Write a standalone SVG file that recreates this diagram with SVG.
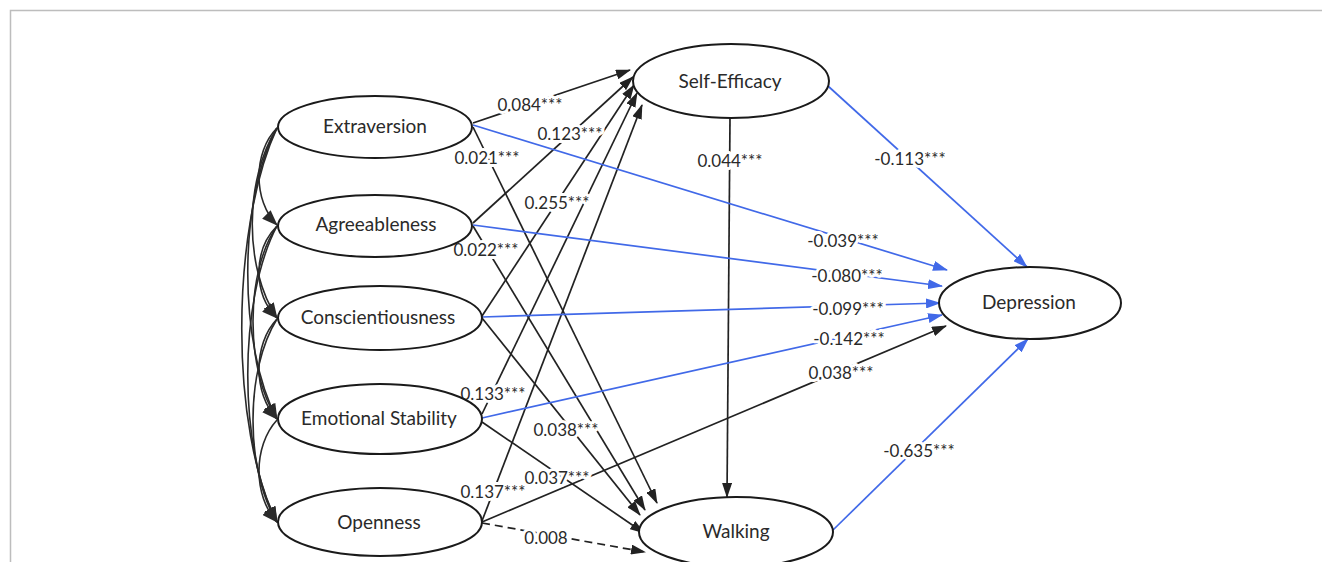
<svg xmlns="http://www.w3.org/2000/svg" width="1322" height="562" viewBox="0 0 1322 562">
<defs>
<marker id="ab" markerUnits="userSpaceOnUse" markerWidth="15" markerHeight="10" refX="14" refY="5" orient="auto"><path d="M0,0 L15,5 L0,10 z" fill="#222"/></marker>
<marker id="au" markerUnits="userSpaceOnUse" markerWidth="15" markerHeight="10" refX="14" refY="5" orient="auto"><path d="M0,0 L15,5 L0,10 z" fill="#4169e8"/></marker>
<marker id="ac" markerUnits="userSpaceOnUse" markerWidth="16" markerHeight="12" refX="15" refY="6" orient="auto"><path d="M0,0 L16,6 L0,12 z" fill="#2a2a2a"/></marker>
<style>
.n{fill:#fff;stroke:#1a1a1a;stroke-width:2}
.nt{font-family:Lato,"Open Sans",sans-serif;font-size:19px;fill:#2a2a2a;text-anchor:middle}
.k{fill:none;stroke:#222;stroke-width:1.7;marker-end:url(#ab)}
.u{fill:none;stroke:#4169e8;stroke-width:1.7;marker-end:url(#au)}
.c{fill:none;stroke:#2a2a2a;stroke-width:1.6;marker-end:url(#ac)}
.d{stroke-dasharray:8,5}
.l{font-family:Lato,"Open Sans",sans-serif;font-size:17px;fill:#2a2a2a;text-anchor:middle;stroke:#fff;stroke-width:6;stroke-linejoin:round;paint-order:stroke}
</style>
</defs>
<rect width="1322" height="562" fill="#fff"/>
<path d="M10.5,562 V10.5 H1322" fill="none" stroke="#bdbdbd" stroke-width="1.5"/>
<g id="connectors">
<path class="c" d="M277,128 C253,152 253,201 277,225"/>
<path class="c" d="M277,128 C244,180 244,268 277,318"/>
<path class="c" d="M277,128 C238,200 238,345 277,419"/>
<path class="c" d="M277,128 C230,230 230,430 277,522"/>
<path class="c" d="M277,226 C253,250 253,294 277,318"/>
<path class="c" d="M277,226 C245,272 245,370 277,419"/>
<path class="c" d="M277,226 C238,300 238,450 277,522"/>
<path class="c" d="M277,319 C253,344 253,394 277,419"/>
<path class="c" d="M277,319 C245,370 245,470 277,522"/>
<path class="c" d="M277,420 C253,446 253,496 277,522"/>
<path class="k" d="M473,123 L630,70"/>
<path class="k" d="M473,223 L633,77"/>
<path class="k" d="M482,316 L634,85"/>
<path class="k" d="M482,414 L637,93"/>
<path class="k" d="M482,521 L642,105"/>
<path class="k" d="M473,127 L657,503"/>
<path class="k" d="M473,226 L645,510"/>
<path class="k" d="M482,318 L640,515"/>
<path class="k" d="M482,422 L644,533"/>
<path class="k d" d="M482,523 L645,552"/>
<path class="k" d="M730,118 L727,497"/>
<path class="u" d="M828,86 L1027,267"/>
<path class="u" d="M473,125 L947,270"/>
<path class="u" d="M473,225 L942,286"/>
<path class="u" d="M482,317 L940,303"/>
<path class="u" d="M482,418 L942,315"/>
<path class="k" d="M482,522 L946,326"/>
<path class="u" d="M833,530 L1028,339"/>
<text class="l" x="530" y="111">0.084***</text>
<text class="l" x="570" y="140">0.123***</text>
<text class="l" x="487" y="164">0.021***</text>
<text class="l" x="557" y="209">0.255***</text>
<text class="l" x="486" y="256">0.022***</text>
<text class="l" x="493" y="400">0.133***</text>
<text class="l" x="566" y="436">0.038***</text>
<text class="l" x="557" y="484">0.037***</text>
<text class="l" x="493" y="498">0.137***</text>
<text class="l" x="546" y="544">0.008</text>
<text class="l" x="730" y="167">0.044***</text>
<text class="l" x="910" y="165">-0.113***</text>
<text class="l" x="843" y="247">-0.039***</text>
<text class="l" x="847" y="282">-0.080***</text>
<text class="l" x="848" y="315">-0.099***</text>
<text class="l" x="849" y="345">-0.142***</text>
<text class="l" x="841" y="379">0.038***</text>
<text class="l" x="919" y="457">-0.635***</text>
</g>
<g id="extraversion"><ellipse class="n" cx="375" cy="127" rx="97" ry="31"/><text class="nt" x="375" y="133">Extraversion</text></g>
<g id="agreeableness"><ellipse class="n" cx="375" cy="226" rx="97" ry="31"/><text class="nt" x="376" y="231">Agreeableness</text></g>
<g id="conscientiousness"><ellipse class="n" cx="380" cy="318" rx="102" ry="32"/><text class="nt" x="378" y="324">Conscientiousness</text></g>
<g id="emotional-stability"><ellipse class="n" cx="380" cy="419" rx="102" ry="35"/><text class="nt" x="379" y="425">Emotional Stability</text></g>
<g id="openness"><ellipse class="n" cx="380" cy="522" rx="102" ry="34"/><text class="nt" x="379" y="529">Openness</text></g>
<g id="self-efficacy"><ellipse class="n" cx="731" cy="81" rx="98" ry="37"/><text class="nt" x="730" y="88">Self-Efficacy</text></g>
<g id="depression"><ellipse class="n" cx="1030" cy="303" rx="91" ry="36"/><text class="nt" x="1029" y="309">Depression</text></g>
<g id="walking"><ellipse class="n" cx="736" cy="532" rx="97" ry="35"/><text class="nt" x="736" y="538">Walking</text></g>
</svg>
